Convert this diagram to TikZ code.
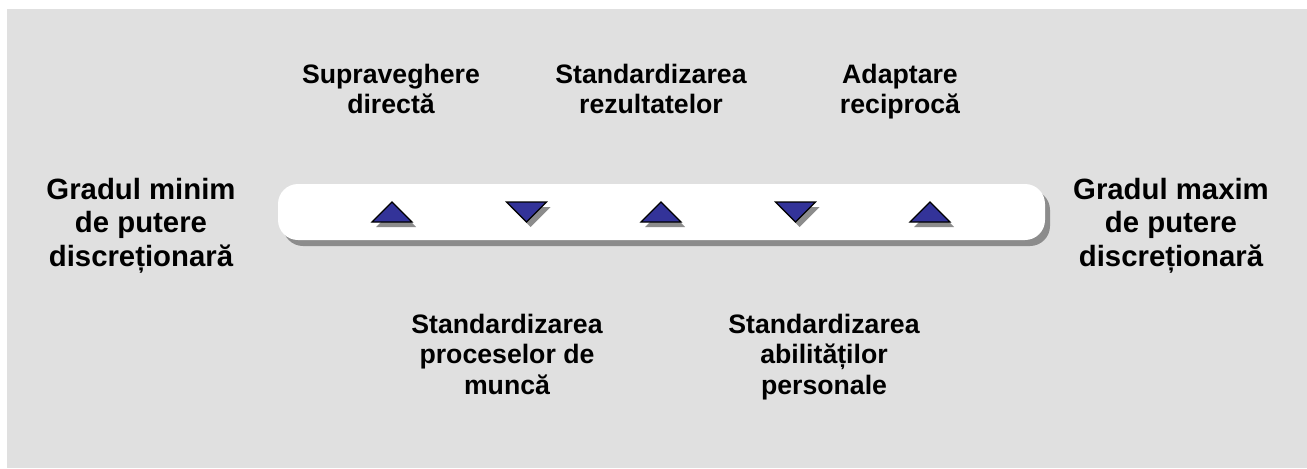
\documentclass[tikz,border=0pt]{standalone}
\usepackage{fontspec}
\setmainfont{Liberation Sans}
\usetikzlibrary{shadows}
\definecolor{panel}{HTML}{E0E0E0}
\definecolor{markerblue}{HTML}{333399}
\definecolor{shade}{HTML}{8C8C8C}

\begin{document}
\begin{tikzpicture}[
    x=0.75pt, y=-0.75pt,
    scalebar/.style={fill=white, rounded corners=15pt, minimum width=575.25pt,
                     minimum height=42pt, inner sep=0pt,
                     drop shadow={shadow xshift=3.75pt, shadow yshift=-4.5pt,
                                  fill=shade, opacity=1}},
    marker/.style={fill=markerblue, draw=black, line width=0.9pt,
                   drop shadow={shadow xshift=3pt, shadow yshift=-3.75pt,
                                fill=shade, opacity=1}},
    caption/.style={font=\bfseries\fontsize{20pt}{23pt}\selectfont,
                    align=center, inner sep=0pt, anchor=north},
    extreme/.style={font=\bfseries\fontsize{22pt}{25.3pt}\selectfont,
                    align=center, inner sep=0pt, anchor=north},
]
\useasboundingbox (0,0) rectangle (1307,468);
\fill[panel] (7,9) rectangle (1307,468);

% the scale with its five markers
\node[scalebar] (bar) at (661.5,212) {};
\coordinate (m1) at (392,212);
\coordinate (m2) at (526.5,212);
\coordinate (m3) at (661,212);
\coordinate (m4) at (795.5,212);
\coordinate (m5) at (930,212);

\filldraw[marker] (m1) ++(-20,10) -- ++(40,0) -- ++(-20,-20) -- cycle;
\filldraw[marker] (m2) ++(-20,-10) -- ++(40,0) -- ++(-20,20) -- cycle;
\filldraw[marker] (m3) ++(-20,10) -- ++(40,0) -- ++(-20,-20) -- cycle;
\filldraw[marker] (m4) ++(-20,-10) -- ++(40,0) -- ++(-20,20) -- cycle;
\filldraw[marker] (m5) ++(-20,10) -- ++(40,0) -- ++(-20,-20) -- cycle;

% both ends of the scale
\node[extreme] (minim) at (141,177.5) {Gradul minim\\de putere\\discreționară};
\node[extreme] (maxim) at (1171,177.5) {Gradul maxim\\de putere\\discreționară};

% coordination mechanisms
\node[caption] (superv) at (391,63.5) {Supraveghere\\directă};
\node[caption] (rezult) at (651,63.5) {Standardizarea\\rezultatelor};
\node[caption] (adapt) at (900,63.5) {Adaptare\\reciprocă};
\node[caption] (proces) at (507,313.5) {Standardizarea\\proceselor de\\muncă};
\node[caption] (abilit) at (824,313.5) {Standardizarea\\abilităților\\personale};
\end{tikzpicture}
\end{document}
